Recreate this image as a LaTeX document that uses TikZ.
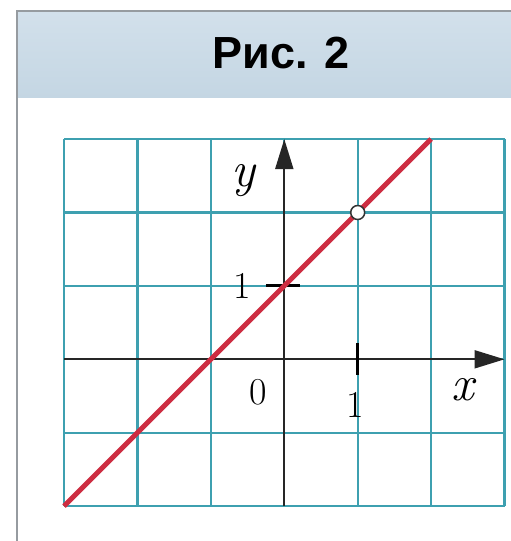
\documentclass[tikz,border=0pt]{standalone}
\usepackage{fontspec}
\newfontfamily\headfont{Liberation Sans}
\usepackage{xcolor}
\usepackage{tikz}
\usetikzlibrary{arrows.meta}

\definecolor{gridteal}{RGB}{62,160,176}
\definecolor{graphred}{RGB}{205,45,65}
\definecolor{headtop}{RGB}{210,224,235}
\definecolor{headmid}{RGB}{243,247,250}
\definecolor{headbot}{RGB}{196,214,227}
\definecolor{framegray}{RGB}{150,155,160}

\begin{document}
\begin{tikzpicture}[x=73.4pt,y=73.4pt,
    axis/.style={line width=2pt, black!85, -{Triangle[length=30pt,width=18pt]}},
    lbl/.style={font=\fontsize{38}{42}\selectfont, inner sep=0pt},
    varlbl/.style={font=\itshape\fontsize{50}{54}\selectfont, inner sep=0pt}]
    \useasboundingbox (-3.873,-2.475) rectangle (3.075,4.895);
    % header band and frame
    \shade[top color=headtop, middle color=headmid, bottom color=headbot] (-3.642,3.56) rectangle (3.2,4.745);
    \draw[framegray, line width=1.5pt] (-3.642,-2.6) -- (-3.642,4.745) -- (3.2,4.745);
    \node[font=\headfont\bfseries\fontsize{45}{50}\selectfont] (title) at (-0.045,4.173) {Рис. 2};
    % grid and axes
    \draw[gridteal, line width=2.2pt, xstep=73.4pt, ystep=73.4pt] (-3,-2) grid (3,3);
    \draw[axis] (-3,0) -- (3,0);
    \draw[axis] (0,-2) -- (0,3);
    \draw[line width=3pt] (-0.25,1) -- (0.22,1);
    \draw[line width=3pt] (1,0.22) -- (1,-0.22);
    % graph
    \draw[graphred, line width=5pt] (-3,-2) -- (2,3);
    \node[circle, draw=black!80, fill=white, line width=1.5pt, minimum size=14pt, inner sep=0pt] (hole) at (1,2) {};
    % labels
    \node[varlbl] (ylabel) at (-0.56,2.44) {y};
    \node[varlbl] (xlabel) at (2.43,-0.42) {x};
    \node[lbl] (zero) at (-0.36,-0.45) {0};
    \node[lbl] (yone) at (-0.57,1.0) {1};
    \node[lbl] (xone) at (0.96,-0.62) {1};
\end{tikzpicture}
\end{document}
